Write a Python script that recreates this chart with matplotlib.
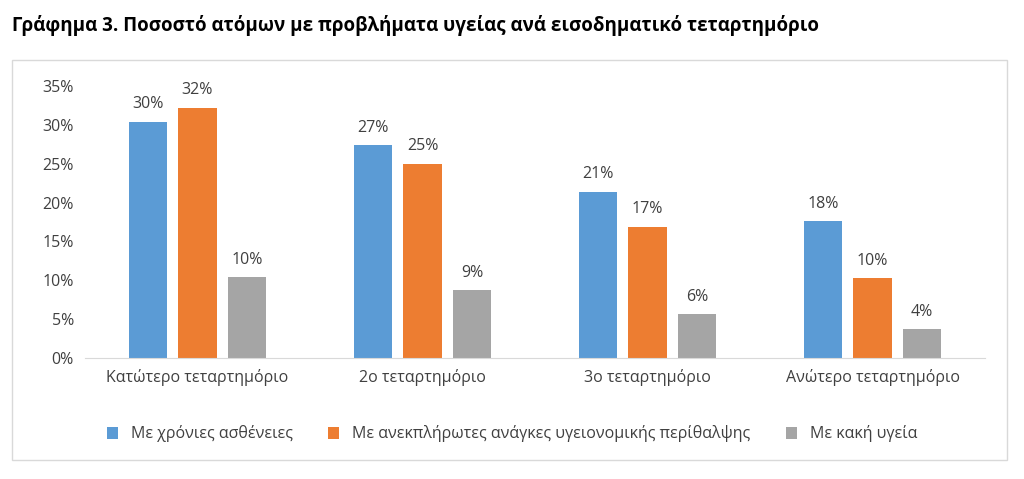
import matplotlib.pyplot as plt
import numpy as np
from matplotlib.patches import Rectangle

plt.rcParams['font.family'] = ['Open Sans', 'DejaVu Sans']

categories = ['Κατώτερο τεταρτημόριο', '2ο τεταρτημόριο', '3ο τεταρτημόριο', 'Ανώτερο τεταρτημόριο']
series_names = ['Με χρόνιες ασθένειες', 'Με ανεκπλήρωτες ανάγκες υγειονομικής περίθαλψης', 'Με κακή υγεία']
chronic = [30.4, 32.2 - 32.2 + 30.4, 0, 0][:0] or [30.4, 27.4, 21.4, 17.6]
unmet = [32.2, 25.0, 16.9, 10.3]
poor = [10.4, 8.7, 5.6, 3.7]
labels = [['30%', '27%', '21%', '18%'], ['32%', '25%', '17%', '10%'], ['10%', '9%', '6%', '4%']]
colors = ['#5B9BD5', '#ED7D31', '#A5A5A5']

fig = plt.figure(figsize=(10.24, 4.79), dpi=100)
fig.patches.append(Rectangle((12/1024, 1-460/479), 995/1024, 400/479, transform=fig.transFigure,
                             fill=False, edgecolor='#D9D9D9', lw=1))
fig.text(12/1024, 1-25/479, 'Γράφημα 3. Ποσοστό ατόμων με προβλήματα υγείας ανά εισοδηματικό τεταρτημόριο',
         fontsize=13.5, fontweight='bold', va='center', ha='left')
ax = fig.add_axes([85/1024, 1-358/479, 900/1024, 272/479])
x = np.arange(len(categories))
w = 0.17
for i, (vals, c) in enumerate(zip([chronic, unmet, poor], colors)):
    bars = ax.bar(x + (i-1)*0.22, vals, w, color=c, label=series_names[i])
    for b, t in zip(bars, labels[i]):
        ax.text(b.get_x()+b.get_width()/2, b.get_height()+1.2, t, ha='center', va='bottom',
                fontsize=11.5, color='#404040')
ax.set_ylim(0, 35)
ax.set_xlim(-0.5, 3.5)
ax.set_yticks(range(0, 36, 5))
ax.set_yticklabels([f'{v}%' for v in range(0, 36, 5)], fontsize=11.5, color='#404040')
ax.set_xticks(x)
ax.set_xticklabels(categories, fontsize=11.5, color='#404040')
for s in ['top', 'right', 'left']:
    ax.spines[s].set_visible(False)
ax.spines['bottom'].set_color('#D9D9D9')
ax.tick_params(length=0, pad=8)
fig.legend(loc='center', bbox_to_anchor=(0.5, 1-434/479), ncol=3, frameon=False,
           fontsize=11.5, handlelength=0.7, handleheight=0.7, columnspacing=2.2,
           labelcolor='#404040')
fig.savefig('out.png', dpi=100)
